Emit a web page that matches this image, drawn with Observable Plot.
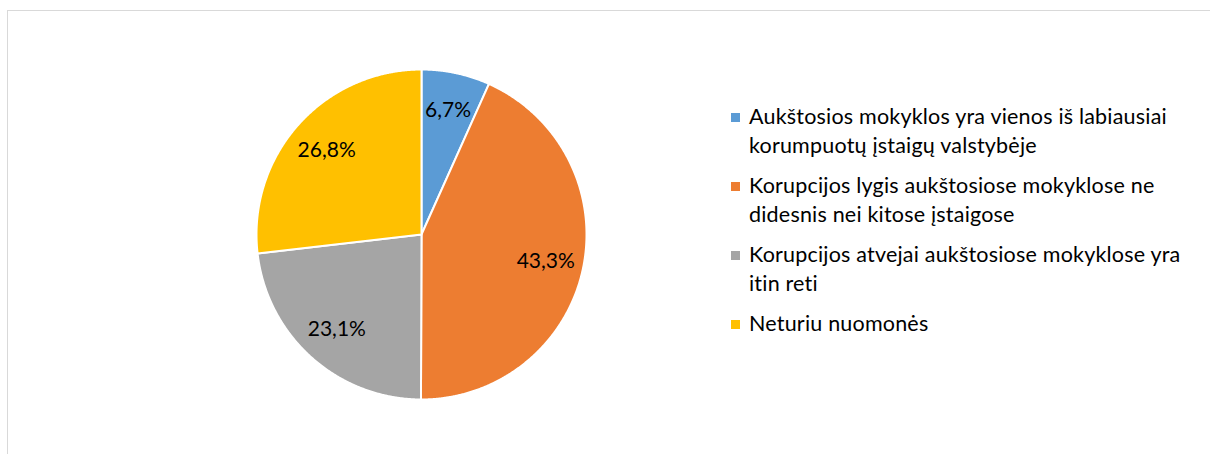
<!DOCTYPE html>
<html>
<head>
<meta charset="utf-8">
<script src="https://cdn.jsdelivr.net/npm/d3@7"></script>
<script src="https://cdn.jsdelivr.net/npm/@observablehq/plot@0.6"></script>
<style>
  html, body { margin: 0; padding: 0; width: 1210px; height: 454px; overflow: hidden; background: #fff; }
  #frame { position: absolute; left: 7px; top: 10px; width: 1400px; height: 800px; border-top: 1px solid #d9d9d9; border-left: 1px solid #d9d9d9; }
  #chart { position: absolute; left: 0; top: 0; }
  #legend { position: absolute; left: 731px; top: 102px; font-family: Lato, "Open Sans", sans-serif; font-size: 21.5px; letter-spacing: 0.2px; color: #000; }
  .item { display: flex; align-items: flex-start; margin-bottom: 11px; line-height: 29px; }
  .sw { width: 9px; height: 9px; flex: none; margin-top: 11px; margin-right: 9px; }
</style>
</head>
<body>
<div id="frame"></div>
<div id="chart"></div>
<div id="legend"></div>
<script>
const categories = [
  "Aukštosios mokyklos yra vienos iš labiausiai korumpuotų įstaigų valstybėje",
  "Korupcijos lygis aukštosiose mokyklose ne didesnis nei kitose įstaigose",
  "Korupcijos atvejai aukštosiose mokyklose yra itin reti",
  "Neturiu nuomonės"
];
const legendLines = [
  ["Aukštosios mokyklos yra vienos iš labiausiai", "korumpuotų įstaigų valstybėje"],
  ["Korupcijos lygis aukštosiose mokyklose ne", "didesnis nei kitose įstaigose"],
  ["Korupcijos atvejai aukštosiose mokyklose yra", "itin reti"],
  ["Neturiu nuomonės"]
];
const shares = [6.7, 43.3, 23.1, 26.8];
const valueLabels = ["6,7%", "43,3%", "23,1%", "26,8%"];
const colors = ["#5B9BD5", "#ED7D31", "#A5A5A5", "#FFC000"];

const W = 1210, H = 454, cx = 421, cy = 234, R = 165, labelR = 0.77;

const arcs = d3.pie().sort(null).value(d => d)(shares);
const slicePts = [];
const labelPts = [];
arcs.forEach((a, i) => {
  const k = categories[i];
  const n = Math.max(4, Math.ceil((a.endAngle - a.startAngle) / 0.005));
  slicePts.push({k, x: 0, y: 0});
  for (let j = 0; j <= n; j++) {
    const t = a.startAngle + (a.endAngle - a.startAngle) * j / n;
    slicePts.push({k, x: Math.sin(t), y: Math.cos(t)});
  }
  slicePts.push({k, x: 0, y: 0});
  const m = (a.startAngle + a.endAngle) / 2;
  labelPts.push({k, x: labelR * Math.sin(m), y: labelR * Math.cos(m), text: valueLabels[i]});
});

const chart = Plot.plot({
  width: W, height: H,
  margin: 0,
  x: {domain: [-cx / R, (W - cx) / R], range: [0, W], axis: null},
  y: {domain: [-(H - cy) / R, cy / R], range: [H, 0], axis: null},
  color: {domain: categories, range: colors, legend: false},
  style: {background: "transparent", fontFamily: "Lato, 'Open Sans', sans-serif"},
  marks: [
    Plot.line(slicePts, {x: "x", y: "y", z: "k", fill: "k", stroke: "white", strokeWidth: 2, strokeLinejoin: "round", curve: "linear"}),
    Plot.text(labelPts, {x: "x", y: "y", text: "text", fill: "black", fontSize: 21})
  ]
});
document.getElementById("chart").appendChild(chart);

const legend = document.getElementById("legend");
categories.forEach((c, i) => {
  const item = document.createElement("div");
  item.className = "item";
  const sw = document.createElement("div");
  sw.className = "sw";
  sw.style.background = colors[i];
  const tx = document.createElement("div");
  tx.innerHTML = legendLines[i].join("<br>");
  item.appendChild(sw);
  item.appendChild(tx);
  legend.appendChild(item);
});
</script>
</body>
</html>
